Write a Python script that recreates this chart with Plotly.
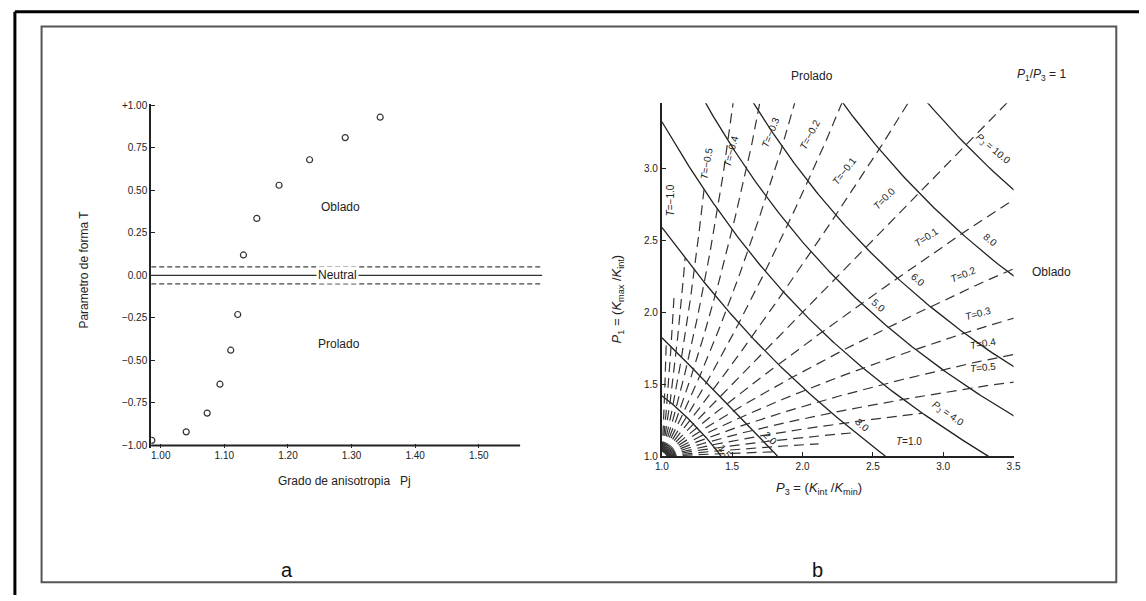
import numpy as np
import plotly.graph_objects as go

# ---------------- data: panel a ----------------
pj_values = [0.986, 1.040, 1.073, 1.093, 1.110, 1.121, 1.130, 1.151, 1.186, 1.234, 1.290, 1.345]
t_values = [-0.97, -0.92, -0.81, -0.64, -0.44, -0.23, 0.12, 0.335, 0.53, 0.68, 0.81, 0.93]
neutral_band = [-0.05, 0.05]
a_xticks = [1.00, 1.10, 1.20, 1.30, 1.40, 1.50]
a_xticklabels = ["1.00", "1.10", "1.20", "1.30", "1.40", "1.50"]
a_yticks = [1.0, 0.75, 0.5, 0.25, 0.0, -0.25, -0.5, -0.75, -1.0]
a_yticklabels = ["+1.00", "0.75", "0.50", "0.25", "0.00", "\u22120.25", "\u22120.50", "\u22120.75", "\u22121.00"]

# ---------------- data: panel b ----------------
pj_levels = [1.5, 2.0, 3.0, 4.0, 5.0, 6.0, 8.0, 10.0]
t_levels = [-0.9, -0.8, -0.7, -0.6, -0.5, -0.4, -0.3, -0.2, -0.1, 0.0,
            0.1, 0.2, 0.3, 0.4, 0.5, 0.6, 0.7, 0.8, 0.9]
# outer Pj reached by each T line (None = runs to the frame)
t_pj_extent = [2.0, 2.5, 3.0, 4.0, None, None, None, None, None, None,
               None, None, None, None, None, 4.0, 3.0, 2.5, 2.0]
t_pj_start = 1.04
b_xticks = [1.0, 1.5, 2.0, 2.5, 3.0, 3.5]
b_yticks = [1.0, 1.5, 2.0, 2.5, 3.0]

W, H = 1146, 601
def px(x):
    return x / W
def py(y):
    return 1 - y / H

FONT = "Arial, Liberation Sans, sans-serif"
INK = "#222"

fig = go.Figure()

# ---- panel a ----
a_xrange = [0.985, 1.6]
a_yrange = [-1.015, 1.01]
fig.add_trace(go.Scatter(
    x=pj_values, y=t_values, mode="markers", xaxis="x", yaxis="y",
    marker=dict(symbol="circle-open", size=6, color="#333", line=dict(width=1.2)),
    showlegend=False, hoverinfo="skip"))

shapes = []
for v in neutral_band:
    shapes.append(dict(type="line", xref="x", yref="y", x0=a_xrange[0], x1=a_xrange[1],
                       y0=v, y1=v, line=dict(color="#444", width=1.2, dash="5px,3px")))
shapes.append(dict(type="line", xref="x", yref="y", x0=a_xrange[0], x1=a_xrange[1],
                   y0=0, y1=0, line=dict(color="#333", width=1.2)))
# x axis line of panel a (ends before the neutral lines)
shapes.append(dict(type="line", xref="x", yref="y", x0=a_xrange[0], x1=1.565,
                   y0=-1.0, y1=-1.0, line=dict(color=INK, width=2)))

# ---- panel b ----
for pj in pj_levels:
    L = np.log(pj)
    bb = np.linspace(0, np.sqrt(3) / 2 * L, 200)
    aa = (-bb + np.sqrt(np.clip(3 * (L ** 2 - bb ** 2), 0, None))) / 2
    fig.add_trace(go.Scatter(x=np.exp(bb), y=np.exp(aa), mode="lines", xaxis="x2", yaxis="y2",
                             line=dict(color=INK, width=1.3), showlegend=False, hoverinfo="skip"))

for T, ext in zip(t_levels, t_pj_extent):
    k = np.sqrt(4 * (3 + T ** 2) / 3)
    smax = np.log(ext if ext else 30.0) / k
    smin = np.log(t_pj_start) / k
    s = np.linspace(smin, smax, 200)
    fig.add_trace(go.Scatter(x=np.exp(s * (1 + T)), y=np.exp(s * (1 - T)), mode="lines",
                             xaxis="x2", yaxis="y2",
                             line=dict(color="#333", width=1.2, dash="10px,6px"),
                             showlegend=False, hoverinfo="skip"))

# frames
shapes.append(dict(type="line", xref="paper", yref="paper", x0=px(8), x1=1.0, y0=py(8), y1=py(8),
                   line=dict(color="#000", width=3)))
shapes.append(dict(type="line", xref="paper", yref="paper", x0=px(8), x1=px(8), y0=py(8), y1=0,
                   line=dict(color="#000", width=3)))
shapes.append(dict(type="rect", xref="paper", yref="paper", x0=px(35), x1=px(1123), y0=py(23), y1=py(588),
                   line=dict(color="#555", width=2)))

ann = []
def A(text, x, y, xref="paper", yref="paper", size=12, angle=0, **kw):
    d = dict(text=text, x=x, y=y, xref=xref, yref=yref, showarrow=False,
             font=dict(family=FONT, size=size, color=kw.pop("color", INK)),
             textangle=angle, xanchor="center", yanchor="middle")
    d.update(kw)
    ann.append(d)

# panel a texts
A("Oblado", 1.283, 0.40, "x", "y", 12)
A("Neutral", 1.278, 0.0, "x", "y", 12, bgcolor="white", borderpad=1)
A("Prolado", 1.281, -0.405, "x", "y", 12)
A("Parametro de forma T", px(77), py(270), size=12, angle=-90)
A("Grado de anisotropia\u00a0\u00a0\u00a0Pj", px(342), py(485), size=12)
A("a", px(283), py(576), size=20, color="#111")
A("b", px(821), py(576), size=20, color="#111")

# panel b texts
A("Prolado", px(815), py(73), size=12)
A("<i>P</i><sub>1</sub>/<i>P</i><sub>3</sub> = 1", px(1047), py(72), size=12)
A("Oblado", px(1057), py(273), size=12)
A("<i>P</i><sub>1</sub> = (<i>K</i><sub>max</sub> /<i>K</i><sub>int</sub>)", px(618), py(300), size=13, angle=-90)
A("<i>P</i><sub>3</sub> = (<i>K</i><sub>int</sub> /<i>K</i><sub>min</sub>)", px(822), py(493), size=13)

t_labels = [
    ("<i>T</i>=\u22121.0", 1.063, 2.775, -90),
    ("<i>T</i>=\u22120.5", 1.316, 3.034, -80),
    ("<i>T</i>=\u22120.4", 1.49, 3.116, -75),
    ("<i>T</i>=\u22120.3", 1.77, 3.25, -68),
    ("<i>T</i>=\u22120.2", 2.053, 3.232, -62),
    ("<i>T</i>=\u22120.1", 2.292, 2.98, -52),
    ("<i>T</i>=0.0", 2.58, 2.79, -45),
    ("<i>T</i>=0.1", 2.875, 2.522, -33),
    ("<i>T</i>=0.2", 3.142, 2.263, -22),
    ("<i>T</i>=0.3", 3.247, 1.99, -15),
    ("<i>T</i>=0.4", 3.282, 1.785, -10),
    ("<i>T</i>=0.5", 3.282, 1.614, -6),
    ("<i>T</i>=1.0", 2.756, 1.102, 0),
]
for txt, x, y, ang in t_labels:
    A(txt, x, y, "x2", "y2", 10, angle=ang)

pj_labels = [
    ("1.5", 1.449, 1.034, 50),
    ("2.0", 1.772, 1.123, 45),
    ("3.0", 2.419, 1.218, 40),
    ("<i>P</i><sub>J</sub> = 4.0", 3.037, 1.294, 35),
    ("5.0", 2.538, 2.044, 40),
    ("6.0", 2.819, 2.229, 40),
    ("8.0", 3.331, 2.502, 40),
    ("<i>P</i><sub>J</sub> = 10.0", 3.353, 3.13, 40),
]
for txt, x, y, ang in pj_labels:
    A(txt, x, y, "x2", "y2", 10, angle=ang)

axis_common = dict(showgrid=False, zeroline=False, ticks="inside", ticklen=4,
                   tickcolor=INK, tickfont=dict(family=FONT, size=10, color=INK))

fig.update_layout(
    width=W, height=H, autosize=False,
    margin=dict(l=0, r=0, t=0, b=0),
    paper_bgcolor="white", plot_bgcolor="rgba(0,0,0,0)",
    showlegend=False,
    xaxis=dict(domain=[px(146), px(542)], range=a_xrange, showline=False,
               tickmode="array", tickvals=a_xticks, ticktext=a_xticklabels,
               anchor="y", **axis_common),
    yaxis=dict(domain=[py(451.5), py(101.3)], range=a_yrange, showline=True, linecolor=INK, linewidth=2,
               tickmode="array", tickvals=a_yticks, ticktext=a_yticklabels,
               anchor="x", **axis_common),
    xaxis2=dict(domain=[px(663), px(1019)], range=[1.0, 3.5], showline=True, linecolor=INK, linewidth=2,
                tickmode="array", tickvals=b_xticks, ticktext=[f"{v:.1f}" for v in b_xticks],
                anchor="y2", **axis_common),
    yaxis2=dict(domain=[py(460), py(101)], range=[1.0, 3.45], showline=True, linecolor=INK, linewidth=2,
                tickmode="array", tickvals=b_yticks, ticktext=[f"{v:.1f}" for v in b_yticks],
                anchor="x2", **axis_common),
    shapes=shapes,
    annotations=ann,
)

fig.write_html("out.html", config={"displayModeBar": False},
               post_script="document.body.style.margin='0';document.body.style.overflow='hidden';")
